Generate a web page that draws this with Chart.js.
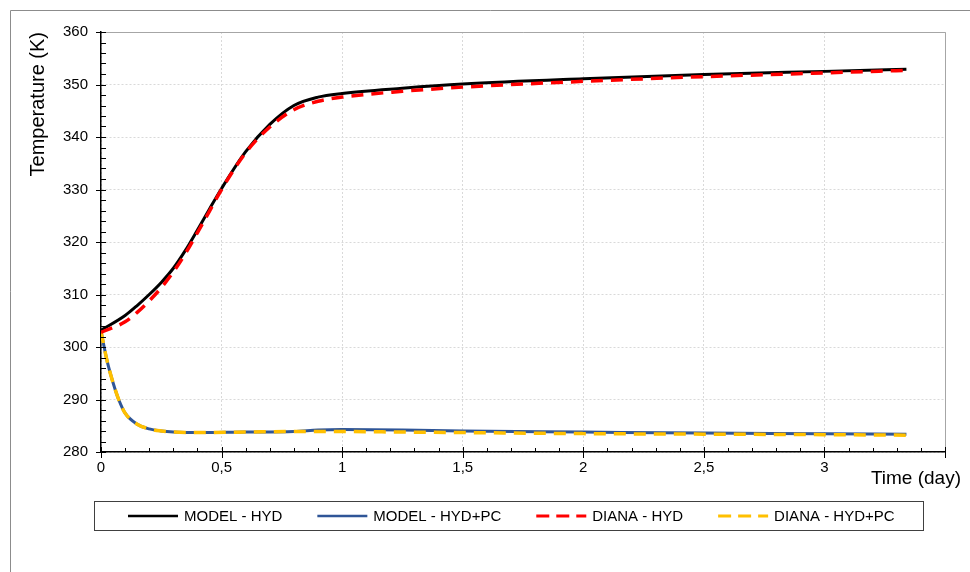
<!DOCTYPE html>
<html>
<head>
<meta charset="utf-8">
<script src="https://cdn.jsdelivr.net/npm/chart.js@4.4.1/dist/chart.umd.min.js"></script>
<style>
  html, body { margin: 0; padding: 0; background: #fff; }
  canvas { display: block; }
</style>
</head>
<body>
<canvas id="temperature-chart" width="970" height="572"></canvas>
<script>
// values
const hydTime = [0, 0.1, 0.15, 0.2, 0.25, 0.3, 0.35, 0.4, 0.45, 0.5, 0.6, 0.7, 0.8, 0.9, 1.0, 1.25, 1.5, 2, 2.5, 3, 3.34];
const modelHyd = [303.2, 306.0, 307.9, 310.0, 312.3, 315.0, 318.4, 322.3, 326.3, 330.2, 337.2, 342.4, 346.0, 347.6, 348.3, 349.3, 350.1, 351.1, 351.9, 352.5, 352.9];
const dianaHyd = [302.8, 304.8, 306.6, 308.8, 311.3, 314.3, 317.8, 321.8, 325.9, 330.0, 337.0, 341.9, 345.2, 346.8, 347.6, 348.7, 349.5, 350.6, 351.5, 352.2, 352.7];

const pcTime = [0, 0.025, 0.05, 0.075, 0.1, 0.15, 0.2, 0.25, 0.3, 0.4, 0.6, 0.8, 0.9, 1.0, 1.25, 1.5, 2, 2.5, 3, 3.34];
const modelHydPc = [303.0, 297.4, 293.2, 289.8, 287.4, 285.3, 284.4, 284.0, 283.8, 283.7, 283.8, 283.9, 284.2, 284.3, 284.2, 284.0, 283.8, 283.6, 283.5, 283.4];
const dianaHydPc = [303.0, 297.4, 293.2, 289.8, 287.4, 285.3, 284.4, 284.0, 283.8, 283.7, 283.8, 283.9, 283.9, 283.9, 283.8, 283.7, 283.5, 283.4, 283.3, 283.2];

const seriesLabels = ["MODEL - HYD", "MODEL - HYD+PC", "DIANA - HYD", "DIANA - HYD+PC"];
const xMin = 0, xMax = 3.5, xStep = 0.5, xMinorStep = 0.1;
const yMin = 280, yMax = 360, yStep = 10, yMinorStep = 2;
const xTitle = "Time (day)";
const yTitle = "Temperature (K)";

const FONT = "'Liberation Sans', Arial, sans-serif";

function toPoints(xs, ys) {
  return xs.map((x, i) => ({ x: x, y: ys[i] }));
}

// outer frame of the picture
const framePlugin = {
  id: "frame",
  beforeDraw(chart) {
    const ctx = chart.ctx;
    ctx.save();
    ctx.strokeStyle = "#8c8c8c";
    ctx.lineWidth = 1;
    ctx.beginPath();
    ctx.moveTo(10.5, chart.height);
    ctx.lineTo(10.5, 10.5);
    ctx.lineTo(chart.width, 10.5);
    ctx.stroke();
    ctx.restore();
  },
};

// plot border, excel style tick marks, x title and the boxed legend
const decorPlugin = {
  id: "decor",
  afterDraw(chart) {
    const ctx = chart.ctx;
    const area = chart.chartArea;
    const xs = chart.scales.x;
    const ys = chart.scales.y;
    ctx.save();

    ctx.strokeStyle = "#a6a6a6";
    ctx.lineWidth = 1;
    ctx.beginPath();
    ctx.moveTo(Math.round(area.left), Math.round(area.top) + 0.5);
    ctx.lineTo(Math.round(area.right) + 0.5, Math.round(area.top) + 0.5);
    ctx.lineTo(Math.round(area.right) + 0.5, Math.round(area.bottom));
    ctx.stroke();

    ctx.strokeStyle = "#000";
    ctx.lineWidth = 1;
    ctx.beginPath();
    const nx = Math.round((xMax - xMin) / xMinorStep);
    for (let i = 0; i <= nx; i++) {
      const v = xMin + i * xMinorStep;
      const px = Math.round(xs.getPixelForValue(v)) + 0.5;
      const major = i % Math.round(xStep / xMinorStep) === 0;
      const yb = area.bottom;
      if (major) {
        ctx.moveTo(px, yb - 5);
        ctx.lineTo(px, yb + 6);
      } else {
        ctx.moveTo(px, yb - 4);
        ctx.lineTo(px, yb);
      }
    }
    const ny = Math.round((yMax - yMin) / yMinorStep);
    for (let i = 0; i <= ny; i++) {
      const v = yMin + i * yMinorStep;
      const py = Math.round(ys.getPixelForValue(v)) + 0.5;
      const major = i % Math.round(yStep / yMinorStep) === 0;
      const xl = area.left;
      if (major) {
        ctx.moveTo(xl - 5, py);
        ctx.lineTo(xl + 5, py);
      } else {
        ctx.moveTo(xl, py);
        ctx.lineTo(xl + 5, py);
      }
    }
    ctx.stroke();

    ctx.fillStyle = "#000";
    ctx.font = "19px " + FONT;
    ctx.textAlign = "right";
    ctx.textBaseline = "middle";
    ctx.fillText(xTitle, 961, 479);

    // legend
    const boxLeft = 94.5, boxRight = 923.5, boxTop = 501.5, boxBottom = 530.5;
    ctx.strokeStyle = "#404040";
    ctx.lineWidth = 1;
    ctx.strokeRect(boxLeft, boxTop, boxRight - boxLeft, boxBottom - boxTop);

    ctx.font = "15px " + FONT;
    ctx.textAlign = "left";
    const cy = (boxTop + boxBottom) / 2;
    let x = 128;
    chart.data.datasets.forEach((ds) => {
      ctx.save();
      ctx.strokeStyle = ds.borderColor;
      ctx.lineWidth = ds.borderDash ? 3 : 2.5;
      ctx.setLineDash(ds.borderDash ? [13, 7] : []);
      ctx.beginPath();
      ctx.moveTo(x, cy);
      ctx.lineTo(x + 50, cy);
      ctx.stroke();
      ctx.restore();
      ctx.fillStyle = "#000";
      ctx.fillText(ds.label, x + 56, cy + 1);
      x += 56 + ctx.measureText(ds.label).width + 35;
    });

    ctx.restore();
  },
};

const ctx = document.getElementById("temperature-chart").getContext("2d");
new Chart(ctx, {
  type: "line",
  data: {
    datasets: [
      {
        label: seriesLabels[0],
        data: toPoints(hydTime, modelHyd),
        borderColor: "#000000",
        borderWidth: 3,
        order: 2,
      },
      {
        label: seriesLabels[1],
        data: toPoints(pcTime, modelHydPc),
        borderColor: "#2f5597",
        borderWidth: 3,
        order: 2,
      },
      {
        label: seriesLabels[2],
        data: toPoints(hydTime, dianaHyd),
        borderColor: "#ff0000",
        borderWidth: 3.5,
        borderDash: [12, 8],
        order: 1,
      },
      {
        label: seriesLabels[3],
        data: toPoints(pcTime, dianaHydPc),
        borderColor: "#ffc000",
        borderWidth: 3.5,
        borderDash: [12, 8],
        order: 1,
      },
    ],
  },
  options: {
    responsive: false,
    animation: false,
    devicePixelRatio: 1,
    layout: {
      padding: { left: 26, right: 25, top: 32, bottom: 90 },
    },
    elements: {
      point: { radius: 0 },
      line: { cubicInterpolationMode: "monotone", fill: false },
    },
    plugins: {
      legend: { display: false },
      tooltip: { enabled: false },
    },
    scales: {
      x: {
        type: "linear",
        min: xMin,
        max: xMax,
        afterFit: (scale) => { scale.height = 30; },
        ticks: {
          stepSize: xStep,
          autoSkip: false,
          maxRotation: 0,
          padding: 7,
          color: "#000",
          font: { family: FONT, size: 15 },
          callback: (value) => (value === xMax ? "" : String(value).replace(".", ",")),
        },
        grid: { color: "#d9d9d9", drawTicks: false, lineWidth: 1 },
        border: { color: "#000", width: 1.5, dash: [2, 2] },
      },
      y: {
        type: "linear",
        min: yMin,
        max: yMax,
        afterFit: (scale) => { scale.width = 75; },
        ticks: {
          stepSize: yStep,
          padding: 13,
          color: "#000",
          font: { family: FONT, size: 15 },
          callback: (value) => String(value),
        },
        grid: { color: "#d9d9d9", drawTicks: false, lineWidth: 1 },
        border: { color: "#000", width: 1.5, dash: [2, 2] },
        title: {
          display: true,
          text: yTitle,
          align: "end",
          color: "#000",
          padding: { top: 0, bottom: 0 },
          font: { family: FONT, size: 20, lineHeight: 1.2 },
        },
      },
    },
  },
  plugins: [framePlugin, decorPlugin],
});
</script>
</body>
</html>
